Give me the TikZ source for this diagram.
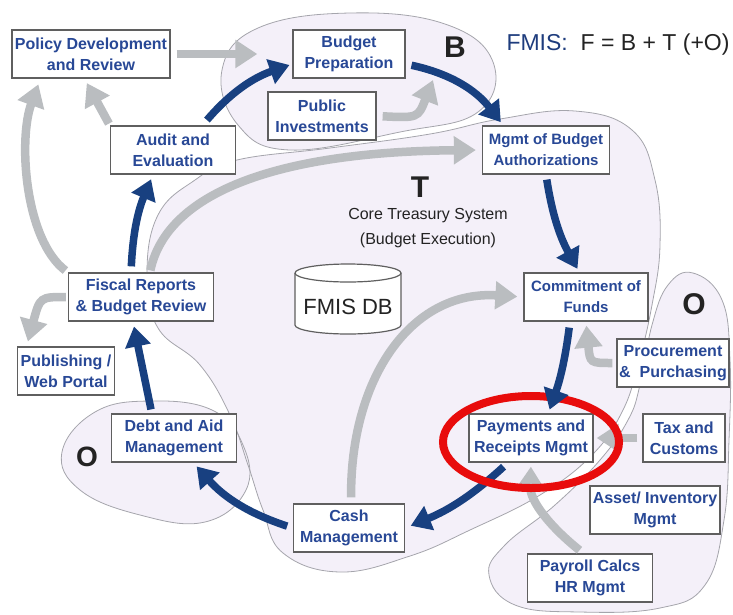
\documentclass[tikz,border=0pt]{standalone}
\usepackage{fontspec}
\setmainfont{Liberation Sans}
\usetikzlibrary{arrows.meta}

\definecolor{navyflow}{RGB}{24,64,128}
\definecolor{grayflow}{RGB}{186,189,192}
\definecolor{boxtext}{RGB}{40,72,150}
\definecolor{boxedge}{RGB}{95,95,95}
\definecolor{blobfill}{RGB}{244,240,249}
\definecolor{blobedge}{RGB}{165,165,172}
\definecolor{ringred}{RGB}{232,12,12}
\definecolor{darktext}{RGB}{35,35,35}
\definecolor{fmisblue}{RGB}{30,60,125}

\begin{document}
\begin{tikzpicture}[
    x=1pt, y=-1pt,
    box/.style={draw=boxedge, line width=1.3pt, fill=white, text=boxtext, align=center,
        font=\bfseries\fontsize{16}{21}\selectfont, inner sep=1pt, minimum height=48pt},
    flow/.style={-{Triangle[width=25pt,length=20pt]}, line width=7.5pt, navyflow},
    feed/.style={-{Triangle[width=27pt,length=22pt]}, line width=8.5pt, grayflow},
    bigletter/.style={text=darktext, font=\bfseries\fontsize{30}{30}\selectfont},
]

\useasboundingbox (0,0) rectangle (733,614);

%--- Subsystem areas (B, T, O) ---
\def\blobB{plot[smooth cycle, tension=0.7] coordinates {(222,70) (258,28) (350,13) (445,24) (493,62)
    (478,112) (400,132) (290,150) (238,125)}}
\def\blobT{plot[smooth cycle, tension=0.7] coordinates {(237,160) (330,148) (430,134) (500,119)
    (575,111) (632,130) (655,180) (660,245) (652,305) (638,365) (622,412) (592,455) (540,495)
    (470,530) (410,556) (340,572) (283,553) (263,510) (248,465) (230,415) (200,365) (158,328)
    (147,275) (158,215) (195,180)}}
\def\blobOright{plot[smooth cycle, tension=0.7] coordinates {(693,273) (722,300) (730,360)
    (729,440) (724,520) (705,585) (660,608) (580,612) (515,605) (489,575) (505,545) (555,505)
    (600,460) (628,420) (640,385) (652,325) (668,285)}}
\def\blobOleft{plot[smooth cycle, tension=0.7] coordinates {(62,452) (95,412) (150,401) (212,410)
    (243,445) (246,490) (205,522) (140,515) (80,490)}}

\fill[blobfill] \blobT;
\fill[blobfill] \blobB;
\fill[blobfill] \blobOright;
\fill[blobfill] \blobOleft;
\draw[blobedge, line width=0.8pt] \blobT;
\draw[blobedge, line width=0.8pt] \blobB;
\draw[blobedge, line width=0.8pt] \blobOright;
\draw[blobedge, line width=0.8pt] \blobOleft;

%--- Database cylinder ---
\draw[boxedge, line width=1.2pt, fill=white] (295,273) -- (295,325) arc[start angle=180, end angle=360, x radius=53pt, y radius=9pt]
    -- (401,273) arc[start angle=0, end angle=180, x radius=53pt, y radius=9pt];
\draw[boxedge, line width=1.2pt] (295,273) arc[start angle=180, end angle=360, x radius=53pt, y radius=9pt];
\node[text=darktext, font=\fontsize{22}{22}\selectfont] (fmisdb) at (348,307) {FMIS DB};

%--- Labels ---
\node[bigletter] (bLabel) at (455,47) {B};
\node[bigletter] (tLabel) at (420,187) {T};
\node[bigletter] (oRight) at (694,304) {O};
\node[bigletter, font=\bfseries\fontsize{28}{28}\selectfont] (oLeft) at (87,457) {O};
\node[text=darktext, align=center, font=\fontsize{16}{25}\selectfont] (core) at (428,228)
    {Core Treasury System\\(Budget Execution)};
\node[text=darktext, font=\fontsize{23}{26}\selectfont] (formula) at (618,45)
    {\textcolor{fmisblue}{FMIS:}\ \ F = B + T (+O)};

%--- Boxes ---
\node[box, minimum width=158pt] (policy) at (91,54) {Policy Development\\and Review};
\node[box, minimum width=112pt] (budget) at (349,54) {Budget\\Preparation};
\node[box, minimum width=108pt] (pubinv) at (322,116) {Public\\Investments};
\node[box, minimum width=125pt] (audit) at (173,150) {Audit and\\Evaluation};
\node[box, minimum width=127pt, font=\bfseries\fontsize{15}{21}\selectfont] (authz) at (546,150) {Mgmt of Budget\\Authorizations};
\node[box, minimum width=145pt] (fiscal) at (141,297) {Fiscal Reports\\\& Budget Review};
\node[box, minimum width=97pt] (portal) at (66,371) {Publishing /\\Web Portal};
\node[box, minimum width=124pt, font=\bfseries\fontsize{15}{21}\selectfont] (commit) at (586,297) {Commitment of\\Funds};
\node[box, minimum width=112pt] (procure) at (673,363) {Procurement\\\&~~Purchasing};
\node[box, minimum width=125pt] (debt) at (174,438) {Debt and Aid\\Management};
\node[box, minimum width=124pt] (pay) at (531,438) {Payments and\\Receipts Mgmt};
\node[box, minimum width=82pt] (tax) at (684,438) {Tax and\\Customs};
\node[box, minimum width=130pt] (asset) at (655,510) {Asset/ Inventory\\Mgmt};
\node[box, minimum width=125pt] (payroll) at (590,578) {Payroll Calcs\\HR Mgmt};
\node[box, minimum width=111pt] (cash) at (349,528) {Cash\\Management};
\coordinate (bTip) at (433,80);

%--- Feeds (gray) ---
\draw[feed, shorten <=6pt, shorten >=35pt] (policy.east) -- (budget.west);
\draw[feed, shorten <=6pt] (pubinv.east) .. controls (418,118) .. (bTip);
\draw[feed, shorten <=2pt, shorten >=5pt] (audit.north west) -- (policy.255);
\draw[feed, shorten <=3pt, shorten >=6pt] (fiscal.north west) .. controls (25,240) and (18,140) .. (policy.206);
\draw[feed, shorten <=2pt, shorten >=5pt] (fiscal.west) .. controls (40,297) .. (portal.148);
\draw[feed, shorten <=2pt, shorten >=6pt] (fiscal.70) .. controls (165,200) and (260,152) .. (authz.west);
\draw[feed, shorten <=6pt, shorten >=6pt] (cash.85) .. controls (350,380) and (410,290) .. (commit.west);
\draw[feed, shorten <=4pt, shorten >=4pt] (procure.west) .. controls (590,363) .. (commit.south);
\draw[feed, shorten <=5pt, shorten >=3pt] (tax.west) -- (pay.east);
\draw[feed, shorten <=5pt, shorten >=4pt] (payroll.105) .. controls (548,525) and (530,500) .. (pay.south);

%--- Budget cycle (blue) ---
\draw[flow, shorten <=7pt, shorten >=3pt] (audit.40) to[bend left=15] (budget.190);
\draw[flow, shorten <=6pt, shorten >=4pt] (budget.350) to[bend left=20] (authz.150);
\draw[flow, shorten <=5pt, shorten >=4pt] (authz.south) to[bend right=10] (commit.105);
\draw[flow, shorten <=6pt, shorten >=6pt] (pay.227) to[bend left=10] (cash.east);
\draw[flow, shorten <=6pt, shorten >=5pt] (cash.west) to[bend left=15] (debt.308);
\draw[flow, shorten <=4pt, shorten >=5pt] (debt.132) -- (fiscal.252);
\draw[flow, shorten <=6pt, shorten >=5pt] (fiscal.112) to[bend left=10] (audit.231);

%--- Highlight ring ---
\draw[ringred, line width=8pt] ([yshift=-4pt]pay.center) ellipse[x radius=88pt, y radius=46pt];
\draw[flow, shorten <=6pt, shorten >=4pt] (commit.237) to[bend left=6] (pay.55);

\end{tikzpicture}
\end{document}
